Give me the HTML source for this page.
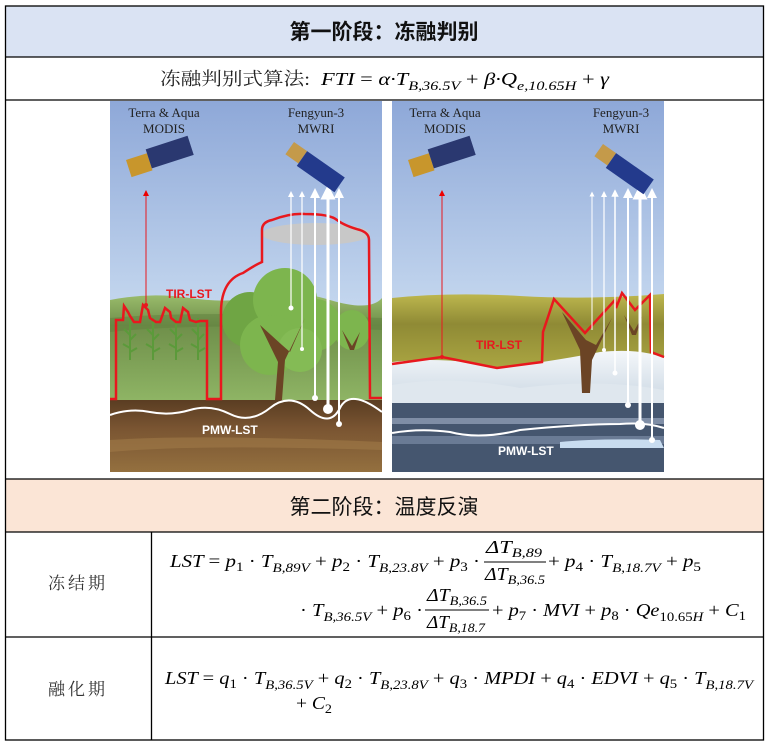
<!DOCTYPE html>
<html><head><meta charset="utf-8"><style>
html,body{margin:0;padding:0;background:#fff;}
svg{display:block;}
.m{font-family:"Liberation Serif",serif;font-style:italic;font-size:18px;fill:#000;}
.s{font-size:13px;}
</style></head><body>
<svg width="769" height="746" viewBox="0 0 769 746" xmlns="http://www.w3.org/2000/svg">
<defs>
<linearGradient id="sky" x1="0" y1="0" x2="0" y2="1">
<stop offset="0" stop-color="#8ea8d8"/><stop offset="0.55" stop-color="#c3d6ee"/><stop offset="1" stop-color="#eef3f6"/>
</linearGradient>
<linearGradient id="field" x1="0" y1="0" x2="0" y2="1">
<stop offset="0" stop-color="#9dbf6e"/><stop offset="0.3" stop-color="#6f8f4a"/><stop offset="1" stop-color="#8fb565"/>
</linearGradient>
<linearGradient id="soil" x1="0" y1="0" x2="0" y2="1">
<stop offset="0" stop-color="#5a3d22"/><stop offset="0.4" stop-color="#7a5532"/><stop offset="1" stop-color="#94703f"/>
</linearGradient>
<linearGradient id="olive" x1="0" y1="0" x2="0" y2="1">
<stop offset="0" stop-color="#bdb74e"/><stop offset="0.35" stop-color="#8f8a35"/><stop offset="1" stop-color="#b2ad45"/>
</linearGradient>
<linearGradient id="snow" x1="0" y1="0" x2="0" y2="1">
<stop offset="0" stop-color="#f4f7fa"/><stop offset="1" stop-color="#c9d6e2"/>
</linearGradient>
<marker id="ar" markerWidth="6" markerHeight="6" refX="3" refY="3" orient="auto"><path d="M0,0 L6,3 L0,6 z" fill="#e00"/></marker>
<marker id="aw" markerWidth="5" markerHeight="5" refX="2.5" refY="2.5" orient="auto"><path d="M0,0 L5,2.5 L0,5 z" fill="#fff"/></marker>
</defs>

<rect x="5.5" y="6" width="758" height="51" fill="#dae3f3"/>
<rect x="5.5" y="479" width="758" height="53" fill="#fbe5d6"/>

<text x="384" y="39" text-anchor="middle" style="font-family:'Liberation Sans','Noto Sans CJK SC',sans-serif" font-weight="bold" font-size="21" fill="#111">第一阶段：冻融判别</text>
<text x="384" y="514" text-anchor="middle" style="font-family:'Liberation Sans','Noto Sans CJK SC',sans-serif" font-size="21" fill="#111">第二阶段：温度反演</text>

<text x="160" y="85" style="font-family:'Liberation Serif','Noto Serif CJK SC',serif" font-size="18" fill="#222" textLength="150" lengthAdjust="spacingAndGlyphs">冻融判别式算法:</text>
<text x="321" y="85" class="m" textLength="288" lengthAdjust="spacingAndGlyphs">FTI <tspan font-style="normal">=</tspan> α·T<tspan class="s" dy="5">B,36.5V</tspan><tspan dy="-5" font-style="normal"> + </tspan>β·Q<tspan class="s" dy="5">e,10.65H</tspan><tspan dy="-5" font-style="normal"> + </tspan>γ</text>

<!-- left image -->
<g>
<rect x="110" y="101" width="272" height="371" fill="url(#sky)"/>
<path d="M110,300 Q150,292 190,298 T260,296 T330,300 T382,298 L382,402 L110,402 z" fill="url(#field)"/>
<path d="M110,318 Q200,310 382,318 L382,330 Q200,322 110,332 z" fill="#5f7f3e" opacity="0.5"/>
<rect x="110" y="400" width="272" height="72" fill="url(#soil)"/>
<path d="M110,440 Q200,434 382,442 L382,450 Q200,444 110,452 z" fill="#a07a48" opacity="0.6"/>
<path d="M110,415 Q130,408 150,412 T190,410 T230,414 T270,408 T310,410 T340,408 T382,412" stroke="#fff" stroke-width="2" fill="none"/>
<g stroke="#5b9a3a" stroke-width="2" fill="none">
<path d="M130,360 L130,318 M130,335 l-6,-6 M130,340 l6,-6 M130,348 l-7,-4 M130,352 l7,-4"/>
<path d="M153,360 L153,318 M153,335 l-6,-6 M153,340 l6,-6 M153,348 l-7,-4 M153,352 l7,-4"/>
<path d="M176,360 L176,318 M176,335 l-6,-6 M176,340 l6,-6 M176,348 l-7,-4 M176,352 l7,-4"/>
<path d="M198,360 L198,318 M198,335 l-6,-6 M198,340 l6,-6 M198,348 l-7,-4 M198,352 l7,-4"/>
</g>
<ellipse cx="352" cy="330" rx="18" ry="20" fill="#7db54e"/>
<circle cx="250" cy="320" r="28" fill="#6fa544"/>
<circle cx="285" cy="300" r="32" fill="#7db54e"/>
<circle cx="315" cy="325" r="26" fill="#7db54e"/>
<circle cx="270" cy="345" r="30" fill="#7db54e"/>
<circle cx="300" cy="350" r="22" fill="#84bb55"/>
<path d="M275,400 L282,400 L285,360 L305,318 L290,352 L282,345 L260,325 L278,362 z" fill="#6b4425"/>
<path d="M350,350 l-8,-20 l10,16 l8,-14 l-6,18 z" fill="#6b4425"/>
<ellipse cx="316" cy="234" rx="54" ry="11" fill="#c8c8c8"/>
<path d="M110,399 L116,399 L116,320 L123,320 L124,306 L128,312 L130,316 L134,322 L140,322 L143,305 L148,310 L150,318 L156,322 L160,322 L165,308 L170,312 L171,318 L176,322 L180,322 L183,308 L188,312 L190,320 L196,322 L200,321 L207,321 L207,399 L221,399 L221,310 Q222,280 243,273 Q255,265 262,262 L262,230 Q262,222 272,220 Q290,213 305,214 Q330,214 337,220 Q345,226 360,230 Q369,233 369,240 L370,398 L382,398" stroke="#e8181e" stroke-width="2.5" fill="none"/>
<line x1="146" y1="305" x2="146" y2="193" stroke="#e8181e" stroke-width="1" marker-end="url(#ar)"/>
<circle cx="146" cy="305" r="2" fill="#e8181e"/>
<g stroke="#fff" fill="none">
<line x1="291" y1="308" x2="291" y2="194" stroke-width="1.2" marker-end="url(#aw)"/>
<line x1="302" y1="349" x2="302" y2="194" stroke-width="1.2" marker-end="url(#aw)"/>
<line x1="315" y1="398" x2="315" y2="193" stroke-width="2" marker-end="url(#aw)"/>
<line x1="328" y1="409" x2="328" y2="192" stroke-width="3" marker-end="url(#aw)"/>
<line x1="339" y1="424" x2="339" y2="193" stroke-width="2" marker-end="url(#aw)"/>
</g>
<g fill="#fff"><circle cx="291" cy="308" r="2.5"/><circle cx="302" cy="349" r="2"/><circle cx="315" cy="398" r="3"/><circle cx="328" cy="409" r="5"/><circle cx="339" cy="424" r="3"/></g>
<g transform="translate(126,160) rotate(-18)">
<rect x="0" y="0" width="22" height="18" fill="#c8962c"/><rect x="22" y="-4" width="44" height="20" fill="#2a3870"/>
</g>
<g transform="translate(294,142) rotate(35)">
<rect x="0" y="0" width="16" height="15" fill="#c49a4a"/><rect x="16" y="0" width="46" height="18" fill="#233a8c"/>
</g>
<text x="164" y="117" text-anchor="middle" font-family="Liberation Serif, serif" font-size="13" fill="#222">Terra &amp; Aqua</text>
<text x="164" y="133" text-anchor="middle" font-family="Liberation Serif, serif" font-size="13" fill="#222">MODIS</text>
<text x="316" y="117" text-anchor="middle" font-family="Liberation Serif, serif" font-size="13" fill="#222">Fengyun-3</text>
<text x="316" y="133" text-anchor="middle" font-family="Liberation Serif, serif" font-size="13" fill="#222">MWRI</text>
<text x="166" y="298" font-family="Liberation Sans, sans-serif" font-weight="bold" font-size="12" fill="#e8181e">TIR-LST</text>
<text x="202" y="434" font-family="Liberation Sans, sans-serif" font-weight="bold" font-size="12" fill="#fff">PMW-LST</text>
</g>

<!-- right image -->
<g>
<rect x="392" y="101" width="272" height="371" fill="url(#sky)"/>
<path d="M392,298 Q450,292 520,296 T664,294 L664,380 L392,380 z" fill="url(#olive)"/>
<path d="M392,362 Q450,356 500,368 Q560,360 600,352 Q640,348 664,358 L664,405 L392,405 z" fill="url(#snow)"/>
<path d="M392,385 Q450,375 520,388 Q600,378 664,390 L664,405 L392,405 z" fill="#dfe7ee"/>
<rect x="392" y="403" width="272" height="69" fill="#45566f"/>
<rect x="392" y="418" width="272" height="6" fill="#7f8ea6"/>
<rect x="392" y="436" width="272" height="8" fill="#6a7b95"/>
<path d="M560,442 Q600,438 660,440 L664,448 L560,448 z" fill="#c8dcf0"/>
<path d="M392,433 Q420,428 450,432 Q480,440 520,430 Q580,424 620,424 Q645,422 664,428" stroke="#fff" stroke-width="2" fill="none"/>
<path d="M582,393 L590,393 L592,360 L612,318 L596,345 L586,340 L562,312 L580,350 z" fill="#6b4425"/>
<path d="M632,335 l-8,-20 l10,16 l8,-14 l-6,18 z" fill="#6b4425"/>
<path d="M392,364 L442,357 L497,368 L542,362 L543,332 L554,299 L585,333 L615,300 L616,308 L622,293 L635,310 L650,295 L651,352 L664,357" stroke="#e8181e" stroke-width="2.5" fill="none"/>
<line x1="442" y1="357" x2="442" y2="193" stroke="#e8181e" stroke-width="1" marker-end="url(#ar)"/>
<circle cx="442" cy="357" r="2" fill="#e8181e"/>
<g stroke="#fff" fill="none">
<line x1="592" y1="330" x2="592" y2="194" stroke-width="1" marker-end="url(#aw)"/>
<line x1="604" y1="350" x2="604" y2="194" stroke-width="1.2" marker-end="url(#aw)"/>
<line x1="615" y1="373" x2="615" y2="193" stroke-width="1.5" marker-end="url(#aw)"/>
<line x1="628" y1="405" x2="628" y2="193" stroke-width="2" marker-end="url(#aw)"/>
<line x1="640" y1="425" x2="640" y2="192" stroke-width="3" marker-end="url(#aw)"/>
<line x1="652" y1="440" x2="652" y2="193" stroke-width="2" marker-end="url(#aw)"/>
</g>
<g fill="#fff"><circle cx="604" cy="350" r="2"/><circle cx="615" cy="373" r="2.5"/><circle cx="628" cy="405" r="3"/><circle cx="640" cy="425" r="5"/><circle cx="652" cy="440" r="3"/></g>
<g transform="translate(408,160) rotate(-18)">
<rect x="0" y="0" width="22" height="18" fill="#c8962c"/><rect x="22" y="-4" width="44" height="20" fill="#2a3870"/>
</g>
<g transform="translate(603,144) rotate(35)">
<rect x="0" y="0" width="16" height="15" fill="#c49a4a"/><rect x="16" y="0" width="46" height="18" fill="#233a8c"/>
</g>
<text x="445" y="117" text-anchor="middle" font-family="Liberation Serif, serif" font-size="13" fill="#222">Terra &amp; Aqua</text>
<text x="445" y="133" text-anchor="middle" font-family="Liberation Serif, serif" font-size="13" fill="#222">MODIS</text>
<text x="621" y="117" text-anchor="middle" font-family="Liberation Serif, serif" font-size="13" fill="#222">Fengyun-3</text>
<text x="621" y="133" text-anchor="middle" font-family="Liberation Serif, serif" font-size="13" fill="#222">MWRI</text>
<text x="476" y="349" font-family="Liberation Sans, sans-serif" font-weight="bold" font-size="12" fill="#e8181e">TIR-LST</text>
<text x="498" y="455" font-family="Liberation Sans, sans-serif" font-weight="bold" font-size="12" fill="#fff">PMW-LST</text>
</g>

<text x="78" y="589" text-anchor="middle" style="font-family:'Liberation Serif','Noto Serif CJK SC',serif" font-size="17" fill="#333" letter-spacing="3">冻结期</text>
<text x="78" y="695" text-anchor="middle" style="font-family:'Liberation Serif','Noto Serif CJK SC',serif" font-size="17" fill="#333" letter-spacing="3">融化期</text>

<text x="170" y="567" class="m" textLength="310" lengthAdjust="spacingAndGlyphs">LST <tspan font-style="normal">=</tspan> p<tspan class="s" dy="4" font-style="normal">1</tspan><tspan dy="-4" font-style="normal"> · </tspan>T<tspan class="s" dy="5">B,89V</tspan><tspan dy="-5" font-style="normal"> + </tspan>p<tspan class="s" dy="4" font-style="normal">2</tspan><tspan dy="-4" font-style="normal"> · </tspan>T<tspan class="s" dy="5">B,23.8V</tspan><tspan dy="-5" font-style="normal"> + </tspan>p<tspan class="s" dy="4" font-style="normal">3</tspan><tspan dy="-4" font-style="normal"> ·</tspan></text>
<text x="486" y="553" class="m" textLength="56" lengthAdjust="spacingAndGlyphs">ΔT<tspan class="s" dy="4">B,89</tspan></text>
<line x1="484" y1="562" x2="546" y2="562" stroke="#000" stroke-width="1"/>
<text x="485" y="580" class="m" textLength="60" lengthAdjust="spacingAndGlyphs">ΔT<tspan class="s" dy="4">B,36.5</tspan></text>
<text x="548" y="567" class="m" textLength="153" lengthAdjust="spacingAndGlyphs"><tspan font-style="normal">+ </tspan>p<tspan class="s" dy="4" font-style="normal">4</tspan><tspan dy="-4" font-style="normal"> · </tspan>T<tspan class="s" dy="5">B,18.7V</tspan><tspan dy="-5" font-style="normal"> + </tspan>p<tspan class="s" dy="4" font-style="normal">5</tspan></text>

<text x="300" y="616" class="m" textLength="123" lengthAdjust="spacingAndGlyphs"><tspan font-style="normal">· </tspan>T<tspan class="s" dy="5">B,36.5V</tspan><tspan dy="-5" font-style="normal"> + </tspan>p<tspan class="s" dy="4" font-style="normal">6</tspan><tspan dy="-4" font-style="normal"> ·</tspan></text>
<text x="427" y="601" class="m" textLength="60" lengthAdjust="spacingAndGlyphs">ΔT<tspan class="s" dy="4">B,36.5</tspan></text>
<line x1="425" y1="610" x2="489" y2="610" stroke="#000" stroke-width="1"/>
<text x="427" y="628" class="m" textLength="58" lengthAdjust="spacingAndGlyphs">ΔT<tspan class="s" dy="4">B,18.7</tspan></text>
<text x="492" y="616" class="m" textLength="254" lengthAdjust="spacingAndGlyphs"><tspan font-style="normal">+ </tspan>p<tspan class="s" dy="4" font-style="normal">7</tspan><tspan dy="-4" font-style="normal"> · </tspan>MVI<tspan font-style="normal"> + </tspan>p<tspan class="s" dy="4" font-style="normal">8</tspan><tspan dy="-4" font-style="normal"> · </tspan>Qe<tspan class="s" dy="5" font-style="normal">10.65</tspan><tspan class="s">H</tspan><tspan dy="-5" font-style="normal"> + </tspan>C<tspan class="s" dy="4" font-style="normal">1</tspan></text>

<text x="165" y="684" class="m" textLength="588" lengthAdjust="spacingAndGlyphs">LST <tspan font-style="normal">=</tspan> q<tspan class="s" dy="4" font-style="normal">1</tspan><tspan dy="-4" font-style="normal"> · </tspan>T<tspan class="s" dy="5">B,36.5V</tspan><tspan dy="-5" font-style="normal"> + </tspan>q<tspan class="s" dy="4" font-style="normal">2</tspan><tspan dy="-4" font-style="normal"> · </tspan>T<tspan class="s" dy="5">B,23.8V</tspan><tspan dy="-5" font-style="normal"> + </tspan>q<tspan class="s" dy="4" font-style="normal">3</tspan><tspan dy="-4" font-style="normal"> · </tspan>MPDI<tspan font-style="normal"> + </tspan>q<tspan class="s" dy="4" font-style="normal">4</tspan><tspan dy="-4" font-style="normal"> · </tspan>EDVI<tspan font-style="normal"> + </tspan>q<tspan class="s" dy="4" font-style="normal">5</tspan><tspan dy="-4" font-style="normal"> · </tspan>T<tspan class="s" dy="5">B,18.7V</tspan></text>
<text x="296" y="709" class="m" textLength="36" lengthAdjust="spacingAndGlyphs"><tspan font-style="normal">+ </tspan>C<tspan class="s" dy="4" font-style="normal">2</tspan></text>

<g stroke="#000" stroke-width="1.3" fill="none">
<rect x="5.5" y="6" width="758" height="734"/>
<line x1="5.5" y1="57" x2="763.5" y2="57"/>
<line x1="5.5" y1="100" x2="763.5" y2="100"/>
<line x1="5.5" y1="479" x2="763.5" y2="479"/>
<line x1="5.5" y1="532" x2="763.5" y2="532"/>
<line x1="5.5" y1="637" x2="763.5" y2="637"/>
<line x1="151.5" y1="532" x2="151.5" y2="740"/>
</g>
</svg>
</body></html>
